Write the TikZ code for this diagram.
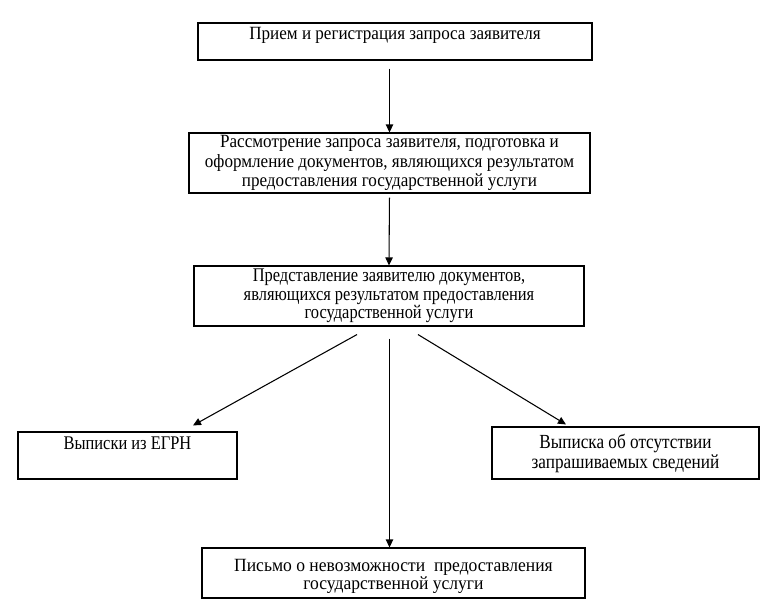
\documentclass[tikz,border=0pt]{standalone}
\usepackage{fontspec}
\setmainfont{Liberation Serif}
\newfontfamily\regfont[FakeStretch=0.915]{Liberation Serif}
\newfontfamily\botfont[FakeStretch=0.94]{Liberation Serif}
\newfontfamily\narrowfont[FakeStretch=0.85]{Liberation Serif}
\newfontfamily\rbfont[FakeStretch=0.86]{Liberation Serif}
\usetikzlibrary{arrows.meta,calc}
\begin{document}
\begin{tikzpicture}[x=0.75pt,y=-0.75pt,
  box/.style={draw=black,line width=0.8pt,inner sep=0pt,align=center,
    font=\regfont\fontsize{14}{14.8}\selectfont},
  txt/.style={inner sep=0pt,align=center,font=\regfont\fontsize{14}{14.8}\selectfont},
  arr/.style={line width=0.8pt,-{Triangle[length=6pt,width=5.5pt]}}]
\useasboundingbox (0,0) rectangle (779,614);
\node[box,minimum width=394*0.75pt,minimum height=37*0.75pt] (top) at (395,41.5) {};
\node[txt] (toptxt) at (395,35) {Прием и регистрация запроса заявителя};
\node[box,minimum width=401*0.75pt,minimum height=60*0.75pt] (sec) at (389.5,163)
  {Рассмотрение запроса заявителя, подготовка и\\оформление документов, являющихся результатом\\предоставления государственной услуги};
\node[box,minimum width=390*0.75pt,minimum height=60*0.75pt,font=\narrowfont\fontsize{14.5}{13.8}\selectfont] (thr) at (389,296)
  {Представление заявителю документов,\\являющихся результатом предоставления\\государственной услуги};
\node[box,minimum width=219*0.75pt,minimum height=47*0.75pt] (lb) at (127.5,455.5) {};
\node[txt,font=\narrowfont\fontsize{14.5}{13.8}\selectfont] (lbtxt) at (127.5,443) {Выписки из ЕГРН};
\node[box,minimum width=267*0.75pt,minimum height=52*0.75pt,font=\rbfont\fontsize{15}{15}\selectfont] (rb) at (625.5,453)
  {Выписка об отсутствии\\запрашиваемых сведений};
\node[box,minimum width=383*0.75pt,minimum height=50*0.75pt] (bot) at (393.5,573) {};
\node[txt,font=\botfont\fontsize{14}{13.5}\selectfont] (bottxt) at (393.5,576)
  {Письмо о невозможности\ \ предоставления\\государственной услуги};
\draw[arr,shorten <=6pt] (top.south -| sec.north) -- (sec.north);
\draw[arr,shorten <=3pt] (sec.south) -- (thr.north);
\draw[arr] ($(thr.south)+(-32,8)$) -- ($(lb.north)+(65.5,-6)$);
\draw[arr] ($(thr.south)+(29,8)$) -- ($(rb.north)+(-59.5,-2)$);
\draw[arr] ($(thr.south)+(0.5,12)$) -- ($(bot.north)+(-4,0)$);
\end{tikzpicture}
\end{document}
